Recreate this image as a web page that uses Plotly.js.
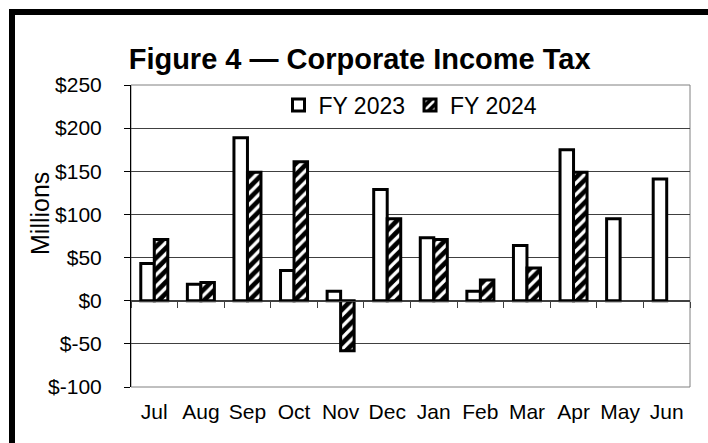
<!DOCTYPE html>
<html>
<head>
<meta charset="utf-8">
<script src="https://cdn.plot.ly/plotly-3.0.1.min.js"></script>
<style>
  html, body { margin: 0; padding: 0; background: #fff; overflow: hidden; }
  #chart { width: 708px; height: 443px; position: relative; }
  #frame { position: absolute; left: 9px; top: 9px; width: 720px; height: 460px;
           border: 6px solid #000; pointer-events: none; box-sizing: border-box; }
</style>
</head>
<body>
<div id="chart"></div>
<div id="frame"></div>
<script>
// Data (millions of dollars)
const months = ["Jul", "Aug", "Sep", "Oct", "Nov", "Dec", "Jan", "Feb", "Mar", "Apr", "May", "Jun"];
const fy2023 = [43, 19, 189, 35, 11, 129, 73, 11, 64, 175, 95, 141];
const fy2024 = [71, 21, 149, 161, -58, 95, 71, 24, 38, 149, null, null];
const yTickVals = [-100, -50, 0, 50, 100, 150, 200, 250];
const yTickText = ["$-100", "$-50", "$0", "$50", "$100", "$150", "$200", "$250"];

const FONT = "Arial, 'Liberation Sans', sans-serif";

const traces = [
  {
    type: "bar", name: "FY 2023", x: months, y: fy2023,
    marker: { color: "#ffffff", line: { color: "#000000", width: 3 } },
    hoverinfo: "skip"
  },
  {
    type: "bar", name: "FY 2024", x: months, y: fy2024,
    marker: {
      color: "#000000",
      line: { color: "#000000", width: 3 },
      pattern: { shape: "/", fgcolor: "#ffffff", bgcolor: "#000000", size: 8, solidity: 0.4 }
    },
    hoverinfo: "skip"
  },
  {
    // carrier for the zero-line category axis (no visible marks)
    type: "scatter", mode: "markers", x: months, y: months.map(() => null),
    xaxis: "x2", showlegend: false, hoverinfo: "skip"
  }
];

const layout = {
  width: 708, height: 443,
  margin: { l: 131, r: 18, t: 85, b: 56 },
  paper_bgcolor: "#ffffff", plot_bgcolor: "#ffffff",
  font: { family: FONT, color: "#000000", size: 20 },
  title: {
    text: "<b>Figure 4 — Corporate Income Tax</b>",
    font: { family: FONT, size: 29, color: "#000000" },
    xref: "container", x: 0.508, xanchor: "center",
    yref: "container", y: 0.868, yanchor: "middle"
  },
  barmode: "group", bargap: 0.42, bargroupgap: 0,
  showlegend: true,
  legend: {
    orientation: "h", x: 0.5, xanchor: "center", y: 1.005, yanchor: "top",
    font: { family: FONT, size: 23 }, bgcolor: "rgba(0,0,0,0)",
    itemwidth: 30, traceorder: "normal"
  },
  xaxis: {
    type: "category", categoryarray: months, range: [-0.5, 11.5],
    showgrid: false, zeroline: false, showline: false, ticks: "",
    ticklabelstandoff: 10,
    tickfont: { family: FONT, size: 21 }, fixedrange: true
  },
  xaxis2: {
    type: "category", categoryarray: months, range: [-0.5, 11.5],
    overlaying: "x", anchor: "free", position: 100 / 350,
    showline: true, linecolor: "#404040", linewidth: 1,
    ticks: "outside", tickson: "boundaries", ticklen: 6, tickcolor: "#404040", tickwidth: 1,
    showticklabels: false, showgrid: false, zeroline: false, fixedrange: true
  },
  yaxis: {
    range: [-100, 250], tickvals: yTickVals, ticktext: yTickText,
    showgrid: true, gridcolor: "#404040", gridwidth: 1, zeroline: false,
    showline: true, linecolor: "#000000", linewidth: 1,
    ticks: "outside", ticklen: 6, tickcolor: "#000000",
    ticklabelstandoff: 18,
    tickfont: { family: FONT, size: 21 },
    fixedrange: true
  },
  annotations: [
    { text: "Millions", textangle: -90, showarrow: false,
      xref: "paper", yref: "paper", x: (40 - 131) / 559, y: (387 - 214) / 302,
      xanchor: "center", yanchor: "middle",
      font: { family: FONT, size: 25, color: "#000000" } }
  ],
  shapes: [
    { type: "rect", xref: "paper", yref: "paper", x0: 0, x1: 1, y0: 0, y1: 1,
      line: { color: "#808080", width: 1 }, layer: "below" }
  ]
};

Plotly.newPlot("chart", traces, layout, { staticPlot: true, displayModeBar: false });
</script>
</body>
</html>
